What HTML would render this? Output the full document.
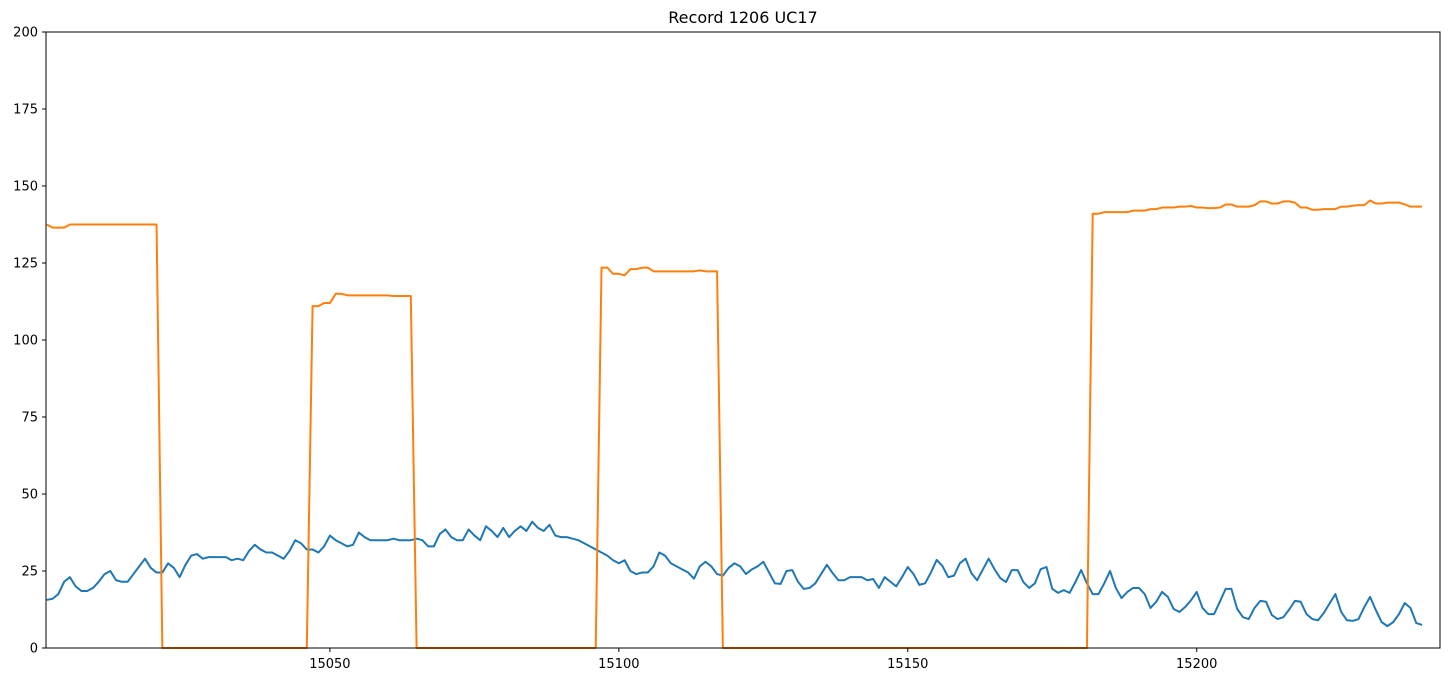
<!DOCTYPE html>
<html><head><meta charset="utf-8"><style>
html,body{margin:0;padding:0;background:#fff;width:1451px;height:682px;overflow:hidden}
svg text{font-family:"DejaVu Sans","Liberation Sans",sans-serif;font-size:13px;fill:#000}
</style></head><body>
<svg id="chart" width="1451" height="682" xmlns="http://www.w3.org/2000/svg">
<text x="743" y="23" text-anchor="middle" style="font-size:16px">Record 1206 UC17</text>
<g id="grid"></g>
<g id="series"></g>
<rect x="46" y="32" width="1394" height="616" fill="none" stroke="#000" stroke-width="1"/>
<g id="axes"></g>
</svg>
<script>
const xStart = 15001;
const xDomain = [15000.87, 15242.1];
const yDomain = [0, 200];
const yTicks = [0, 25, 50, 75, 100, 125, 150, 175, 200];
const xTicks = [15050, 15100, 15150, 15200];
const blueValues = [15.6,16,17.5,21.5,23,20,18.5,18.5,19.5,21.5,24,25,22,21.5,21.5,24,26.5,29,26,24.5,
24.5,27.5,26,23,27,30,30.5,29,29.5,29.5,29.5,29.5,28.5,29,28.5,31.5,33.5,32,31,31,
30,29,31.5,35,34,32,32,31,33,36.5,35,34,33,33.5,37.5,36,35,35,35,35,
35.5,35,35,35,35.5,35,33,33,37,38.5,36,35,35,38.5,36.5,35,39.5,38,36,39,
36,38,39.5,38,41,39,38,40,36.5,36,36,35.5,35,34,33,32,31,30,28.5,27.5,
28.5,25,24,24.5,24.5,26.5,31,30,27.5,26.5,25.5,24.5,22.5,26.5,28,26.5,24,23.5,26,27.5,
26.5,24,25.5,26.5,28,24.5,21,20.8,25,25.3,21.5,19.2,19.5,21,24,27,24.3,22,22,23,
23,23,22,22.4,19.5,23,21.5,20,23,26.3,24,20.5,21,24.5,28.6,26.6,23,23.5,27.5,29,
24.3,22,25.5,29,25.6,22.7,21.4,25.3,25.3,21.4,19.5,21,25.6,26.3,19.2,17.9,18.8,17.9,21.4,25.3,
21,17.5,17.5,21,25,19.5,16.2,18.2,19.5,19.5,17.5,13,15,18.2,16.6,12.7,11.7,13.3,15.5,18.2,
13,11,11,15,19.2,19.2,12.7,10,9.4,13,15.3,15,10.7,9.4,10,12.5,15.3,15,11,9.4,
9,11.4,14.5,17.5,11.7,9,8.8,9.4,13.3,16.6,12.3,8.4,7.1,8.4,11,14.6,13,8.1,7.5];
const orangeValues = [137.5,136.5,136.5,136.5,137.5,137.5,137.5,137.5,137.5,137.5,137.5,137.5,137.5,137.5,137.5,137.5,137.5,137.5,137.5,137.5,
0,0,0,0,0,0,0,0,0,0,0,0,0,0,0,0,0,0,0,0,
0,0,0,0,0,0,111,111,112,112,115,115,114.5,114.5,114.5,114.5,114.5,114.5,114.5,114.5,
114.3,114.3,114.3,114.3,0,0,0,0,0,0,0,0,0,0,0,0,0,0,0,0,
0,0,0,0,0,0,0,0,0,0,0,0,0,0,0,0,123.5,123.5,121.5,121.5,
121,123,123,123.5,123.5,122.3,122.3,122.3,122.3,122.3,122.3,122.3,122.3,122.6,122.3,122.3,122.3,0,0,0,
0,0,0,0,0,0,0,0,0,0,0,0,0,0,0,0,0,0,0,0,
0,0,0,0,0,0,0,0,0,0,0,0,0,0,0,0,0,0,0,0,
0,0,0,0,0,0,0,0,0,0,0,0,0,0,0,0,0,0,0,0,
0,141,141,141.5,141.5,141.5,141.5,141.5,142,142,
142,142.5,142.5,143,143,143,143.3,143.3,143.5,143,143,142.8,142.8,143,144,144,143.3,143.3,143.3,143.8,
145,145,144.3,144.3,145,145,144.6,143,143,142.3,142.3,142.5,142.5,142.5,143.3,143.3,143.6,143.8,143.8,145.3,
144.3,144.3,144.6,144.6,144.6,144,143.3,143.3,143.3];

const L=46,R=1440,T=32,B=648;
const NS='http://www.w3.org/2000/svg';
function sx(v){return L+(v-xDomain[0])/(xDomain[1]-xDomain[0])*(R-L);}
function sy(v){return B-(v-yDomain[0])/(yDomain[1]-yDomain[0])*(B-T);}
function mk(tag,attrs,parent){const e=document.createElementNS(NS,tag);for(const k in attrs)e.setAttribute(k,attrs[k]);parent.appendChild(e);return e;}
const axes=document.getElementById('axes');
yTicks.forEach(t=>{
  const y=sy(t);
  const tk=mk('line',{x1:L-4,x2:L,y1:y,y2:y,stroke:'#000'},axes);
  
  
  const lb=mk('text',{x:L-8,y:y+4.5,'text-anchor':'end'},axes);
  lb.textContent=t;
  
  
});
xTicks.forEach(t=>{
  const x=sx(t);
  const tk=mk('line',{x1:x,x2:x,y1:B,y2:B+4,stroke:'#000'},axes);
  
  
  const lb=mk('text',{x:x,y:B+20,'text-anchor':'middle'},axes);
  lb.textContent=t;
  
  
});
const series=document.getElementById('series');
function line(vals,color,name){
  const pts=vals.map((v,i)=>sx(xStart+i).toFixed(2)+','+sy(v).toFixed(2)).join(' ');
  const p=mk('polyline',{points:pts,fill:'none',stroke:color,'stroke-width':2,'stroke-linejoin':'round'},series);
  
  
}
line(blueValues,'#1f77b4','blue-series-line');
line(orangeValues,'#ff7f0e','orange-series-line');
</script>
</body></html>
